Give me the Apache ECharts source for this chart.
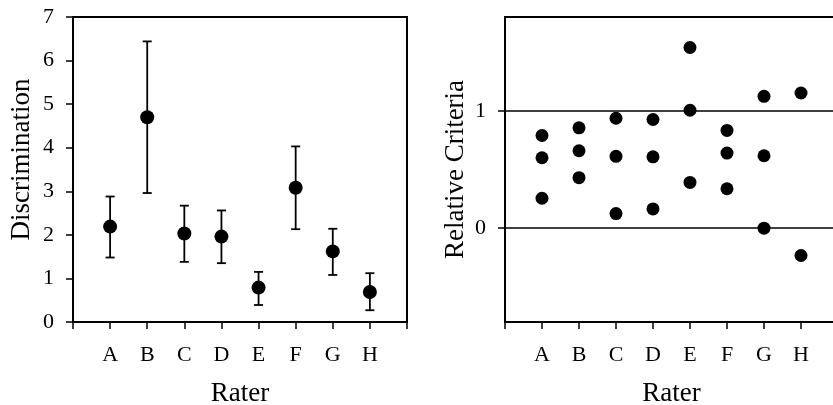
<!DOCTYPE html>
<html>
<head>
<meta charset="utf-8">
<script src="https://cdn.jsdelivr.net/npm/echarts@6.0.0/dist/echarts.min.js"></script>
<style>
  html, body { margin: 0; padding: 0; background: #fff; }
  #chart { width: 833px; height: 405px; }
</style>
</head>
<body>
<div id="chart"></div>
<script>
// raters along the x axis (positions 1..8)
const raters = ["A", "B", "C", "D", "E", "F", "G", "H"];

// left panel: discrimination mean with error bars
const discrimination = [2.19, 4.70, 2.03, 1.96, 0.79, 3.08, 1.62, 0.69];
const errLow = [1.48, 2.96, 1.38, 1.35, 0.39, 2.13, 1.08, 0.27];
const errHigh = [2.88, 6.44, 2.67, 2.56, 1.15, 4.03, 2.14, 1.12];

// right panel: relative criteria, several per rater
const criteria = [
  [0.79, 0.60, 0.255],
  [0.855, 0.66, 0.43],
  [0.937, 0.612, 0.124],
  [0.926, 0.608, 0.164],
  [1.54, 1.005, 0.39],
  [0.833, 0.64, 0.336],
  [1.124, 0.617, 0.0],
  [1.152, -0.233],
];
const criteriaRefLines = [0, 1];

const FONT = "Liberation Serif";
const BLACK = "#000";

const meanData = discrimination.map((v, i) => [i + 1, v]);
const barData = raters.map((r, i) => [i + 1, errLow[i], errHigh[i]]);
const critData = [];
criteria.forEach((vals, i) => vals.forEach((v) => critData.push([i + 1, v])));

function raterAxis(gridIndex) {
  return {
    type: "value",
    gridIndex: gridIndex,
    min: 0,
    max: 9,
    interval: 1,
    name: "Rater",
    nameLocation: "middle",
    nameGap: 58,
    nameTextStyle: { fontFamily: FONT, fontSize: 27, color: BLACK },
    axisLine: { onZero: false, lineStyle: { color: BLACK, width: 2 } },
    axisTick: { length: 7, lineStyle: { color: BLACK, width: 1.5 } },
    axisLabel: {
      margin: 22,
      fontFamily: FONT,
      fontSize: 22,
      color: BLACK,
      formatter: (v) => raters[v - 1] || "",
    },
    splitLine: { show: false },
  };
}

const gridBase = { top: 17, height: 305, show: true, borderColor: BLACK, borderWidth: 2, outerBoundsMode: "none", containLabel: false };

const chart = echarts.init(document.getElementById("chart"));
chart.setOption({
  animation: false,
  grid: [
    Object.assign({ left: 73, width: 334 }, gridBase),
    Object.assign({ left: 505, width: 333 }, gridBase),
  ],
  xAxis: [raterAxis(0), raterAxis(1)],
  yAxis: [
    {
      type: "value",
      gridIndex: 0,
      min: 0,
      max: 7,
      interval: 1,
      name: "Discrimination",
      nameLocation: "middle",
      nameGap: 38,
      nameTextStyle: { fontFamily: FONT, fontSize: 27, color: BLACK, padding: [0, 0, 0, 20] },
      axisLine: { lineStyle: { color: BLACK, width: 2 } },
      axisTick: { length: 7, lineStyle: { color: BLACK, width: 1.5 } },
      axisLabel: { margin: 19, fontFamily: FONT, fontSize: 22, color: BLACK },
      splitLine: { show: false },
    },
    {
      type: "value",
      gridIndex: 1,
      min: -0.8,
      max: 1.8,
      name: "Relative Criteria",
      nameLocation: "middle",
      nameGap: 36,
      nameTextStyle: { fontFamily: FONT, fontSize: 27, color: BLACK },
      axisLine: { onZero: false, lineStyle: { color: BLACK, width: 2 } },
      axisTick: { length: 7, customValues: criteriaRefLines, lineStyle: { color: BLACK, width: 1.5 } },
      axisLabel: { margin: 19, fontFamily: FONT, fontSize: 22, color: BLACK, customValues: criteriaRefLines },
      splitLine: { show: false },
    },
  ],
  series: [
    {
      type: "custom",
      xAxisIndex: 0,
      yAxisIndex: 0,
      data: barData,
      renderItem: (params, api) => {
        const lo = api.coord([api.value(0), api.value(1)]);
        const hi = api.coord([api.value(0), api.value(2)]);
        const cap = 4.5;
        const style = { stroke: BLACK, lineWidth: 1.8 };
        return {
          type: "group",
          children: [
            { type: "line", shape: { x1: lo[0], y1: lo[1], x2: hi[0], y2: hi[1] }, style: style },
            { type: "line", shape: { x1: lo[0] - cap, y1: lo[1], x2: lo[0] + cap, y2: lo[1] }, style: style },
            { type: "line", shape: { x1: hi[0] - cap, y1: hi[1], x2: hi[0] + cap, y2: hi[1] }, style: style },
          ],
        };
      },
    },
    {
      type: "scatter",
      xAxisIndex: 0,
      yAxisIndex: 0,
      data: meanData,
      symbolSize: 14,
      itemStyle: { color: BLACK, opacity: 1 },
    },
    {
      type: "scatter",
      xAxisIndex: 1,
      yAxisIndex: 1,
      data: critData,
      symbolSize: 13,
      itemStyle: { color: BLACK, opacity: 1 },
      markLine: {
        silent: true,
        symbol: "none",
        label: { show: false },
        lineStyle: { color: BLACK, type: "solid", width: 1.5 },
        data: criteriaRefLines.map((v) => ({ yAxis: v })),
      },
    },
  ],
});
</script>
</body>
</html>
